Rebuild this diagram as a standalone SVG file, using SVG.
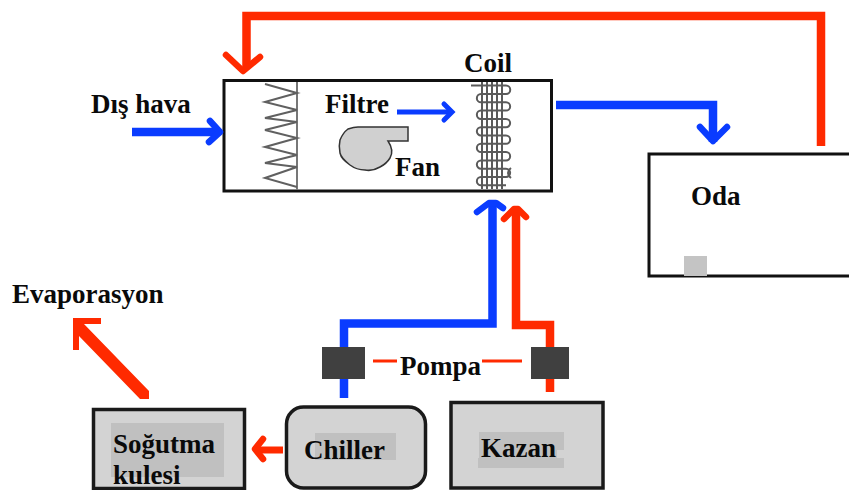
<svg xmlns="http://www.w3.org/2000/svg" width="849" height="490" viewBox="0 0 849 490">
<style>
text{font-family:"Liberation Serif","Times New Roman",serif;font-weight:700;font-size:27px;fill:#0a0a0a}
.box{fill:#d3d3d3;stroke:#1a1a1a;stroke-width:3.5}
.shade{fill:#c0c0c0}
.pump{fill:#404040}
.r{fill:none;stroke:#ff2a00;stroke-width:8.500}
.b{fill:none;stroke:#0a3cff;stroke-width:8.500}
.rh{fill:none;stroke:#ff2a00;stroke-width:6.500;stroke-linecap:round;stroke-linejoin:round}
.bh{fill:none;stroke:#0a3cff;stroke-width:6.500;stroke-linecap:round;stroke-linejoin:round}
.thin{fill:none;stroke:#ff2a00;stroke-width:3}
.coil{fill:none;stroke:#5a5a5a;stroke-width:2}
</style>
<rect width="849" height="490" fill="#fff"/>
<g id="ahu"><rect x="224" y="80.500" width="327.500" height="110.500" fill="#fff" stroke="#111" stroke-width="3"/></g>
<g id="filter"><path d="M297 82V190" fill="none" stroke="#777" stroke-width="2"/><path d="M265 84L297 93L265 102L297 110L265 118L297 122L265 130L297 138L265 147L297 155L265 163L297 167L265 178L297 187" fill="none" stroke="#606060" stroke-width="2"/></g>
<g id="fan"><path d="M358 127H408V141H388C392 147 393 153 390 158C387 163 384 165 380 167C375 170 370 171 365 170C358 170 354 168 350 165C345 161 341 158 340 153C339 148 339 144 340 140C342 135 344 132 348 129C351 128 354 127 358 127Z" fill="#d0d0d0" stroke="#333" stroke-width="1.500"/></g>
<g id="coil"><path class="coil" d="M482 82V189M487 82V189M492 82V189M497 82V189M502 82V189"/>
<path class="coil" d="M471 85.500H506A4 4 0 0 1 506 94H481A4 4 0 0 0 481 102.300H506A4 4 0 0 1 506 110.600H481A4 4 0 0 0 481 118.900H506A4 4 0 0 1 506 127.200H481A4 4 0 0 0 481 135.500H506A4 4 0 0 1 506 143.800H481A4 4 0 0 0 481 152.100H506A4 4 0 0 1 506 160.400H481A4 4 0 0 0 481 168.700H506A4 4 0 0 1 506 177H481A4 4 0 0 0 481 185.300H506"/><path class="coil" d="M511 168C507 171 507 175 511 178"/></g>
<g id="connectors">
<path class="r" d="M821 146V16H246.500V68"/><path class="rh" d="M226 55L243 71L260 57"/>
<path class="b" d="M556 105H713V142"/><path class="bh" d="M700 127L713 141L727 127"/>
<path class="b" d="M132 132H216"/><path class="bh" d="M210 121L220 132L209 142"/>
<path d="M397 112H451" fill="none" stroke="#0a3cff" stroke-width="5"/><path d="M444 104L452 112L444 120" fill="none" stroke="#0a3cff" stroke-width="5" stroke-linecap="round"/>
<path class="b" d="M344 398V323.500H492.500V205"/><path class="bh" d="M477 212L489 203H496L503 208"/>
<path class="r" d="M550 392V325H516V212"/><path class="rh" d="M504 219L514 209H518L526 217"/>
<path d="M73 318H101V324H84L149 391V399H140L79 336V350H73Z" fill="#ff2a00"/>
<path d="M283 450H258" fill="none" stroke="#ff2a00" stroke-width="7"/><path class="rh" d="M263 439L255 449L263 459"/>
<path class="thin" d="M373 361H397M482 361H522"/>
</g>
<g id="pump-left"><rect class="pump" x="322" y="347" width="43" height="32"/></g>
<g id="pump-right"><rect class="pump" x="531" y="347" width="38" height="32"/></g>
<g id="room"><rect x="649" y="154" width="202" height="122" fill="#fff" stroke="#111" stroke-width="3"/><rect x="684" y="256" width="23" height="20" fill="#c4c4c4"/><text x="691" y="205">Oda</text></g>
<g id="tower"><rect class="box" x="93.500" y="409.500" width="151" height="79"/><rect class="shade" x="111" y="423" width="113" height="54"/><text x="113" y="453">Soğutma</text><text x="113" y="484">kulesi</text></g>
<g id="chiller"><rect class="box" x="286.500" y="407" width="139" height="81" rx="17"/><rect class="shade" x="315" y="433" width="81" height="27"/><text x="304" y="459">Chiller</text></g>
<g id="boiler"><rect class="box" x="451" y="402.500" width="152" height="85.500"/><path class="shade" d="M479 432H564V450H557V458H564V468H478V458H479Z"/><text x="481" y="457">Kazan</text></g>
<g id="labels"><text x="91" y="113">Dış hava</text><text x="325" y="113">Filtre</text><text x="395" y="176">Fan</text><text x="464" y="72">Coil</text><text x="12" y="303">Evaporasyon</text><text x="400" y="375">Pompa</text></g>
</svg>
